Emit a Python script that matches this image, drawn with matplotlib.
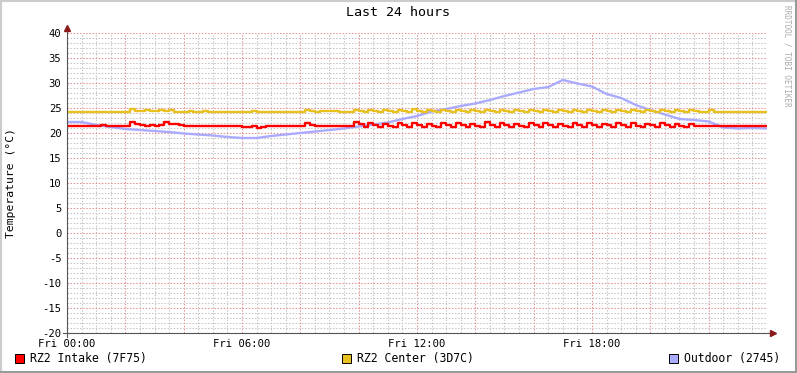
import numpy as np
import matplotlib
matplotlib.use("Agg")
import matplotlib.pyplot as plt
from matplotlib.lines import Line2D
from matplotlib.patches import Rectangle
from matplotlib.ticker import MultipleLocator

plt.rcParams["axes.unicode_minus"] = False

# 10-minute samples, one row per hour
intake = [
    21.4, 21.4, 21.4, 21.4, 21.4, 21.4,
    21.4, 21.6, 21.4, 21.4, 21.4, 21.4,
    21.4, 22.2, 21.8, 21.6, 21.4, 21.6,
    21.4, 21.6, 22.2, 21.8, 21.8, 21.6,
    21.4, 21.4, 21.4, 21.4, 21.4, 21.4,
    21.4, 21.4, 21.4, 21.4, 21.4, 21.4,
    21.2, 21.2, 21.4, 21.0, 21.2, 21.4,
    21.4, 21.4, 21.4, 21.4, 21.4, 21.4,
    21.4, 22.0, 21.6, 21.4, 21.4, 21.4,
    21.4, 21.4, 21.4, 21.4, 21.4, 22.2,
    21.8, 21.2, 22.0, 21.6, 21.2, 21.8,
    21.4, 21.2, 22.0, 21.6, 21.2, 22.0,
    21.6, 21.2, 21.8, 21.4, 21.2, 22.0,
    21.6, 21.2, 22.0, 21.6, 21.2, 21.8,
    21.4, 21.2, 22.2, 21.6, 21.2, 22.0,
    21.6, 21.2, 21.8, 21.4, 21.2, 22.0,
    21.6, 21.2, 22.0, 21.6, 21.2, 21.8,
    21.4, 21.2, 22.0, 21.6, 21.2, 22.0,
    21.6, 21.2, 21.8, 21.6, 21.2, 22.0,
    21.6, 21.2, 22.0, 21.4, 21.2, 21.8,
    21.6, 21.2, 22.0, 21.6, 21.2, 21.8,
    21.4, 21.2, 21.8, 21.4, 21.4, 21.4,
    21.4, 21.4, 21.4, 21.4, 21.4, 21.4,
    21.4, 21.4, 21.4, 21.4, 21.4, 21.4,
    21.4,
]

center = [
    24.2, 24.2, 24.2, 24.2, 24.2, 24.2,
    24.2, 24.2, 24.2, 24.2, 24.2, 24.2,
    24.2, 24.8, 24.4, 24.4, 24.6, 24.4,
    24.4, 24.7, 24.4, 24.6, 24.2, 24.2,
    24.2, 24.4, 24.2, 24.2, 24.4, 24.2,
    24.2, 24.2, 24.2, 24.2, 24.2, 24.2,
    24.2, 24.2, 24.4, 24.2, 24.2, 24.2,
    24.2, 24.2, 24.2, 24.2, 24.2, 24.2,
    24.2, 24.7, 24.4, 24.2, 24.5, 24.4,
    24.5, 24.4, 24.2, 24.2, 24.2, 24.7,
    24.4, 24.2, 24.7, 24.4, 24.2, 24.6,
    24.4, 24.2, 24.7, 24.4, 24.2, 24.8,
    24.4, 24.2, 24.7, 24.4, 24.2, 24.6,
    24.4, 24.2, 24.7, 24.4, 24.2, 24.7,
    24.4, 24.2, 24.6, 24.4, 24.2, 24.7,
    24.4, 24.2, 24.7, 24.4, 24.2, 24.6,
    24.4, 24.2, 24.7, 24.4, 24.2, 24.7,
    24.4, 24.2, 24.6, 24.4, 24.2, 24.7,
    24.4, 24.2, 24.7, 24.4, 24.2, 24.6,
    24.4, 24.2, 24.7, 24.4, 24.2, 24.7,
    24.4, 24.2, 24.6, 24.4, 24.2, 24.7,
    24.4, 24.2, 24.6, 24.4, 24.2, 24.2,
    24.7, 24.3, 24.2, 24.2, 24.2, 24.2,
    24.2, 24.2, 24.2, 24.2, 24.2, 24.2,
    24.3,
]

# 30-minute samples
outdoor = [
    22.2, 22.2, 21.6, 21.2, 20.8, 20.6, 20.4, 20.2, 19.9, 19.7,
    19.5, 19.2, 19.0, 19.0, 19.4, 19.7, 20.0, 20.3, 20.6, 20.9,
    21.3, 21.7, 22.1, 22.8, 23.4, 24.3, 24.8, 25.4, 25.9, 26.6,
    27.4, 28.1, 28.8, 29.2, 30.6, 29.9, 29.3, 27.8, 27.0, 25.6,
    24.6, 23.7, 22.8, 22.6, 22.3, 21.1, 20.9, 21.0, 20.9,
]

series_names = ["RZ2 Intake (7F75)", "RZ2 Center (3D7C)", "Outdoor (2745)"]
series_colors = ["#FF0000", "#E8C020", "#AAAAFF"]
x_labels = {0: "Fri 00:00", 6: "Fri 06:00", 12: "Fri 12:00", 18: "Fri 18:00"}

W, H = 797, 373
L, R, T, B = 67, 767, 33, 333
mono = "DejaVu Sans Mono"

fig = plt.figure(figsize=(W / 100, H / 100), dpi=100, facecolor="white")
ax = fig.add_axes([L / W, 1 - B / H, (R - L) / W, (B - T) / H])
ax.set_facecolor("white")

t_fine = np.arange(len(intake)) / 6.0
t_coarse = np.arange(len(outdoor)) / 2.0

ax.plot(t_coarse, outdoor, color=series_colors[2], lw=1.7, zorder=3)
ax.plot(t_fine, center, color=series_colors[1], lw=1.7, drawstyle="steps-post", zorder=4)
ax.plot(t_fine, intake, color=series_colors[0], lw=1.7, drawstyle="steps-post", zorder=5)

ax.set_xlim(0, 24)
ax.set_ylim(-20, 40)
ax.xaxis.set_major_locator(MultipleLocator(2))
ax.xaxis.set_minor_locator(MultipleLocator(0.5))
ax.yaxis.set_major_locator(MultipleLocator(5))
ax.yaxis.set_minor_locator(MultipleLocator(1))
ax.set_xticklabels([x_labels.get(int(round(v)), "") for v in ax.get_xticks()])

ax.grid(which="minor", color="#C4C4C4", lw=0.75, ls=(0, (1.4, 1.6)), zorder=1)
ax.grid(which="major", color="#E49090", lw=0.75, ls=(0, (1.4, 1.6)), zorder=2)

for s in ax.spines.values():
    s.set_visible(False)
ax.tick_params(which="both", length=0, labelsize=7.6, colors="black")
ax.tick_params(axis="y", pad=4)
ax.tick_params(axis="x", pad=4)
for lab in ax.get_xticklabels() + ax.get_yticklabels():
    lab.set_family(mono)

# rrdtool style axes with arrows
def fx(px):
    return px / W

def fy(py):
    return 1 - py / H

fig.add_artist(Line2D([fx(63), fx(771)], [fy(B), fy(B)], color="#555555", lw=0.8))
fig.add_artist(Line2D([fx(L), fx(L)], [fy(337), fy(29)], color="#555555", lw=0.8))
fig.add_artist(Line2D([fx(773)], [fy(B)], marker=">", color="#8B1A1A", ms=4, mec="#8B1A1A"))
fig.add_artist(Line2D([fx(L)], [fy(28)], marker="^", color="#8B1A1A", ms=4, mec="#8B1A1A"))

ax.set_ylabel("Temperature (°C)", family=mono, fontsize=8.2)
ax.yaxis.set_label_coords(-51 / (R - L), 0.5)
fig.text(0.5, fy(13), "Last 24 hours", family=mono, fontsize=9.6, ha="center", va="center")
fig.text(fx(787), fy(5), "RRDTOOL / TOBI OETIKER", family=mono, fontsize=5.5,
         color="#AAAAAA", rotation=270, ha="center", va="top")

# legend
leg_x = [15, 342, 669]
for px, name, col in zip(leg_x, series_names, series_colors):
    fig.add_artist(Rectangle((fx(px), fy(363)), 9 / W, 9 / H, facecolor=col,
                             edgecolor="black", lw=0.7))
    fig.text(fx(px + 15), fy(358.5), name, family=mono, fontsize=8.3, va="center", ha="left")

# frame
fig.add_artist(Line2D([0, 1], [1 - 1 / H, 1 - 1 / H], color="#CCCCCC", lw=1.5))
fig.add_artist(Line2D([1 / W, 1 / W], [0, 1], color="#CCCCCC", lw=1.5))
fig.add_artist(Line2D([0, 1], [1.5 / H, 1.5 / H], color="#9A9A9A", lw=2.2))
fig.add_artist(Line2D([1 - 1.5 / W, 1 - 1.5 / W], [0, 1], color="#9A9A9A", lw=2.2))

fig.savefig("out.png", dpi=100, facecolor="white")
